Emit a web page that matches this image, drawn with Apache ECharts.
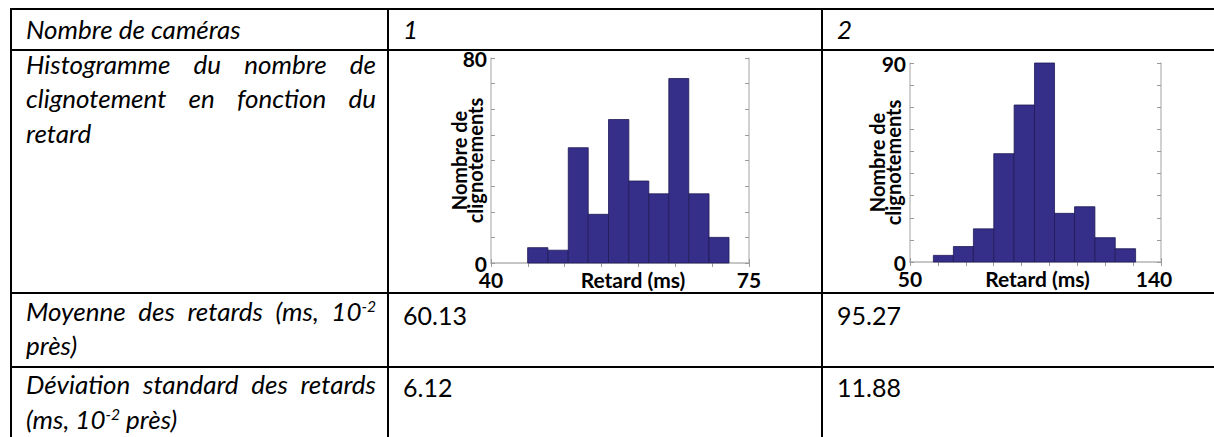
<!DOCTYPE html>
<html>
<head>
<meta charset="utf-8">
<script src="https://cdn.jsdelivr.net/npm/echarts@6/dist/echarts.min.js"></script>
<style>
html,body{margin:0;padding:0;background:#fff;width:1214px;height:437px;overflow:hidden;position:relative;}
.h{position:absolute;height:2px;background:#000;}
.v{position:absolute;width:2px;background:#000;}
.t{position:absolute;font-family:Lato,'Noto Sans',sans-serif;font-style:italic;font-size:26px;line-height:34px;color:#000;white-space:nowrap;}
.j{text-align:justify;text-align-last:justify;width:350px;}
.n{font-style:normal;font-size:25px;}
sup{font-size:0.6em;line-height:0;vertical-align:0.55em;}
.chart{position:absolute;}
</style>
</head>
<body>
<div id="c1" class="chart" style="left:389px;top:40px;width:432px;height:252px;"></div>
<div id="c2" class="chart" style="left:823px;top:40px;width:391px;height:252px;"></div>
<script>
// ---------- table content ----------
const rowHeaderLines = [
  ['Nombre de caméras'],
  ['Histogramme du nombre de', 'clignotement en fonction du', 'retard'],
  ['Moyenne des retards (ms, 10<sup>-2</sup>', 'près)'],
  ['Déviation standard des retards', '(ms, 10<sup>-2</sup> près)']
];
const cameraCounts = ['1', '2'];
const meanDelays = ['60.13', '95.27'];
const stdDelays = ['6.12', '11.88'];

// ---------- histogram data (bin edges in ms, counts) ----------
const binEdges1 = [44.97, 47.72, 50.48, 53.19, 55.94, 58.70, 61.41, 64.12, 66.83, 69.58, 72.29];
const counts1   = [6, 5, 45, 19, 56, 32, 27, 72, 27, 10];
const binEdges2 = [58.38, 65.56, 72.74, 80.04, 87.34, 94.64, 101.82, 109.00, 116.30, 123.60, 130.90];
const counts2   = [3, 7, 15, 49, 71, 90, 22, 25, 11, 6];
const xTickLabels1 = [40, 75];
const yTickLabels1 = [0, 80];
const xTickLabels2 = [50, 140];
const yTickLabels2 = [0, 90];
const xAxisName = 'Retard (ms)';
const yAxisName = 'Nombre de\nclignotements';

// ---------- table layout ----------
const body = document.body;
function line(cls, style) {
  const d = document.createElement('div');
  d.className = cls;
  Object.assign(d.style, style);
  body.appendChild(d);
}
[8, 49, 292, 366].forEach(y => line('h', {left: '10px', top: y + 'px', width: '1204px'}));
[10, 387, 821].forEach(x => line('v', {left: x + 'px', top: '8px', height: '429px'}));

const headerCenters = [[29], [64, 98, 133], [311, 345], [384, 419]];
function text(html, x, cy, extra) {
  const d = document.createElement('div');
  d.className = 't ' + (extra || '');
  d.style.left = x + 'px';
  d.style.top = (cy - 17) + 'px';
  d.innerHTML = html;
  body.appendChild(d);
}
rowHeaderLines.forEach((lines, r) => {
  lines.forEach((ln, i) => {
    const last = i === lines.length - 1;
    text(ln, 26, headerCenters[r][i], last ? '' : 'j');
  });
});
const colX = [403, 837];
cameraCounts.forEach((v, i) => text(v, colX[i], 29, ''));
meanDelays.forEach((v, i) => text(v, colX[i], 315, 'n'));
stdDelays.forEach((v, i) => text(v, colX[i], 387, 'n'));

// ---------- charts ----------
const labelFont = {color: '#000', fontWeight: 'bold', fontSize: 21, fontFamily: 'Lato'};
function histOption(edges, counts, xMin, xMax, xInt, yMax, xLabels, yLabels, grid, shift, yNameGap) {
  const boxLine = {show: true, lineStyle: {color: '#c2c2c2', width: 1.5}};
  const tick = {show: true, inside: true, length: 4, lineStyle: {color: '#9a9a9a', width: 1}};
  return {
    animation: false,
    grid: Object.assign({containLabel: false, outerBoundsMode: 'none'}, grid),
    xAxis: [{
      type: 'value', min: xMin, max: xMax, interval: xInt, position: 'bottom',
      axisLine: boxLine, axisTick: tick, splitLine: {show: false},
      axisLabel: Object.assign({
        margin: 9, lineHeight: 15,
        formatter: v => xLabels.indexOf(v) >= 0 ? (v === xMax ? '{m|' + v + '}' : '{n|' + v + '}') : '',
        rich: {
          n: Object.assign({lineHeight: 15}, labelFont),
          m: Object.assign({lineHeight: 15, padding: [0, shift.maxPad, 0, 0]}, labelFont)
        }
      }, labelFont),
      name: xAxisName, nameLocation: 'middle', nameGap: 6, nameMoveOverlap: false,
      nameTextStyle: Object.assign({padding: [0, 0, 0, shift.name], verticalAlign: 'top'}, labelFont)
    }, {
      type: 'value', min: xMin, max: xMax, interval: xInt, position: 'top',
      axisLine: boxLine, axisTick: tick, splitLine: {show: false}, axisLabel: {show: false}
    }],
    yAxis: [{
      type: 'value', min: 0, max: yMax, interval: 10, position: 'left',
      axisLine: boxLine, axisTick: tick, splitLine: {show: false},
      axisLabel: Object.assign({
        margin: 4, lineHeight: 14, padding: [0, 0, 4, 0],
        formatter: v => yLabels.indexOf(v) >= 0 ? String(v) : ''
      }, labelFont),
      name: yAxisName, nameLocation: 'middle', nameRotate: 90, nameGap: yNameGap, nameMoveOverlap: false,
      nameTextStyle: Object.assign({}, labelFont, {fontSize: 20, lineHeight: 16})
    }, {
      type: 'value', min: 0, max: yMax, interval: 10, position: 'right',
      axisLine: boxLine, axisTick: tick, splitLine: {show: false}, axisLabel: {show: false}
    }],
    series: [{
      type: 'custom',
      data: counts.map((c, i) => [edges[i], edges[i + 1], c]),
      encode: {x: [0, 1], y: 2},
      renderItem: function (params, api) {
        const p0 = api.coord([api.value(0), api.value(2)]);
        const p1 = api.coord([api.value(1), 0]);
        return {
          type: 'rect',
          shape: {x: p0[0], y: p0[1], width: p1[0] - p0[0], height: p1[1] - p0[1]},
          style: {fill: '#352f89', stroke: '#1f1b55', lineWidth: 0.8}
        };
      }
    }]
  };
}
const ch1 = echarts.init(document.getElementById('c1'), null, {renderer: 'svg'});
ch1.setOption(histOption(binEdges1, counts1, 40, 75, 5, 80, xTickLabels1, yTickLabels1,
  {left: 102, top: 18, width: 258, height: 205}, {name: 26, maxPad: 0}, 8));
const ch2 = echarts.init(document.getElementById('c2'), null, {renderer: 'svg'});
ch2.setOption(histOption(binEdges2, counts2, 50, 140, 10, 90, xTickLabels2, yTickLabels2,
  {left: 87, top: 23, width: 251, height: 199}, {name: 4, maxPad: 14}, 9));
</script>
</body>
</html>
